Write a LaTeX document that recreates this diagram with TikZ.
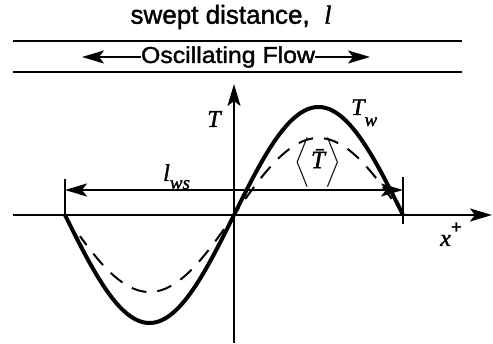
\documentclass[tikz,border=0pt]{standalone}
\usepackage{amsmath}
\usepackage{fontspec}
\setmainfont{Liberation Serif}[FakeBold=1.5]
\newfontfamily\hv{Liberation Sans}[FakeBold=1.5]
\usetikzlibrary{arrows.meta}
\begin{document}
\begin{tikzpicture}[x=1pt,y=-1pt,
  bigtip/.style={-{Stealth[length=22pt,width=13pt,inset=5pt]}},
  axisline/.style={line width=2pt},
  thinline/.style={line width=1.8pt},
  lbl/.style={inner sep=0pt,font=\fontsize{24}{24}\selectfont\itshape},
  toptxt/.style={inner sep=0pt,font=\hv\fontsize{23}{23}\selectfont}]
\useasboundingbox (0,0) rectangle (493,344);
% top band
\node[toptxt,font=\hv\fontsize{26}{26}\selectfont] (swept) at (231,17) {swept distance,\ \ {\rmfamily\itshape l}};
\coordinate (l1a) at (13,41); \coordinate (l1b) at (462,41);
\coordinate (l2a) at (13,72); \coordinate (l2b) at (462,72);
\draw[thinline] (l1a) -- (l1b);
\draw[thinline] (l2a) -- (l2b);
\node[toptxt,xscale=1.08,transform shape] (osc) at (228,57) {Oscillating Flow};
\coordinate (oscL) at (82,57); \coordinate (oscR) at (370,57);
\draw[thinline,bigtip] (osc.west) -- (oscL);
\draw[thinline,bigtip] (osc.east) -- (oscR);
% axes
\coordinate (O) at (234,215);
\coordinate (ybot) at (234,343); \coordinate (ytop) at (234,84);
\coordinate (xl) at (13,215); \coordinate (xr) at (492,215);
\draw[axisline,bigtip] (ybot) -- (ytop);
\draw[axisline,bigtip] (xl) -- (xr);
% curves
\draw[line width=4pt,line join=round] plot[domain=65:403,samples=120] (\x,{215-108*sin((\x-234)/169*180)});
\draw[line width=2pt,dash pattern=on 15pt off 11pt,dash phase=4pt] plot[domain=80:392,samples=120] (\x,{215-77*sin((\x-234)/169*180)});
% swept length
\coordinate (wl1) at (65,179); \coordinate (wl2) at (65,217);
\coordinate (wr1) at (403,177); \coordinate (wr2) at (403,224);
\draw[axisline] (wl1) -- (wl2);
\draw[axisline] (wr1) -- (wr2);
\coordinate (aL) at (65,190); \coordinate (aR) at (403,190);
\draw[axisline,{Stealth[length=22pt,width=13pt,inset=5pt]}-{Stealth[length=22pt,width=13pt,inset=5pt]}] (aL) -- (aR);
% labels
\node[lbl] (Tlab) at (214,119) {T};
\node[lbl,anchor=base west] (Tw) at (351,115) {T\raisebox{-11pt}{\fontsize{19}{19}\selectfont w}};
\node[inner sep=0pt,font=\fontsize{22}{22}\selectfont] (Tbar) at (318,163) {$\bigg\langle$\kern1pt{\fontsize{25}{25}\selectfont\itshape\=T}\kern1pt$\bigg\rangle$};
\node[lbl,anchor=base west] (lws) at (163,181) {l\raisebox{-8pt}{\fontsize{19}{19}\selectfont ws}};
\node[lbl,anchor=base west] (xplus) at (440,246) {x\raisebox{13pt}{\hv\fontsize{18}{18}\selectfont +}};
\end{tikzpicture}
\end{document}
